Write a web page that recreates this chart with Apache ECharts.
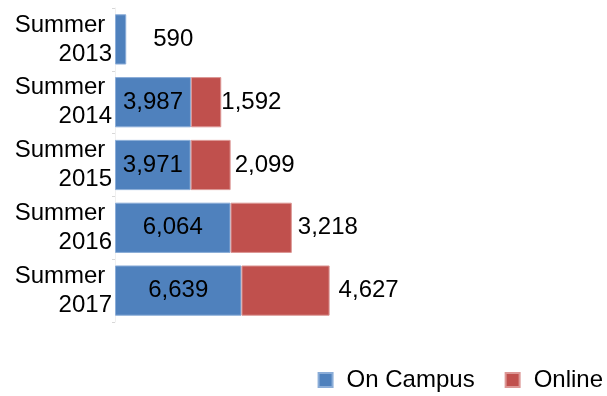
<!DOCTYPE html>
<html>
<head>
<meta charset="utf-8">
<script src="https://cdn.jsdelivr.net/npm/echarts@6/dist/echarts.min.js"></script>
<style>
  html, body { margin: 0; padding: 0; background: #fff; }
  #chart { width: 607px; height: 396px; }
</style>
</head>
<body>
<div id="chart"></div>
<script>
  // data
  const categories = ['Summer 2013', 'Summer 2014', 'Summer 2015', 'Summer 2016', 'Summer 2017']
  const onCampus = [590, 3987, 3971, 6064, 6639]
  const online = ['-', 1592, 2099, 3218, 4627]

  const font = 'Liberation Sans, Arial, sans-serif'
  const fmt = function (p) {
    return Number(p.value).toLocaleString('en-US')
  }
  // outside label gaps as in the picture
  const onlineGap = [0, 0, 4, 6, 9]

  const chart = echarts.init(document.getElementById('chart'))

  // first campus value sits outside the thin bar
  const campusData = onCampus.map(function (v, i) {
    if (i === 0) {
      return { value: v, label: { position: 'right', distance: 27 } }
    }
    return v
  })
  const onlineData = online.map(function (v, i) {
    return { value: v, label: { distance: onlineGap[i] } }
  })

  const option = {
    animation: false,
    legend: {
      right: 4,
      bottom: 4,
      padding: 0,
      itemWidth: 14,
      itemHeight: 14,
      itemGap: 30,
      icon: 'rect',
      textStyle: { fontFamily: font, fontSize: 24, color: '#000', padding: [0, 0, 0, 9] },
      data: ['On Campus', 'Online']
    },
    grid: {
      left: 115,
      top: 8,
      right: 111,
      height: 314
    },
    xAxis: {
      type: 'value',
      min: 0,
      max: 20000,
      show: false
    },
    yAxis: {
      type: 'category',
      inverse: true,
      data: categories,
      axisLine: { lineStyle: { color: '#f0f0f0', width: 1 } },
      axisTick: { show: true, length: 3, lineStyle: { color: '#d8d8d8' } },
      axisLabel: {
        fontFamily: font,
        fontSize: 24,
        color: '#000',
        lineHeight: 29,
        margin: 3,
        // wrapped line keeps its trailing space
        formatter: function (v) {
          return v.replace(' ', ' \n')
        }
      }
    },
    series: [
      {
        name: 'On Campus',
        type: 'bar',
        stack: 'total',
        barCategoryGap: '20%',
        data: campusData,
        itemStyle: { color: '#4f81bd', borderColor: '#8badd8', borderWidth: 1 },
        label: {
          show: true,
          position: 'inside',
          fontFamily: font,
          fontSize: 24,
          color: '#000',
          formatter: fmt
        }
      },
      {
        name: 'Online',
        type: 'bar',
        stack: 'total',
        data: onlineData,
        itemStyle: { color: '#c0504d', borderColor: '#dc9795', borderWidth: 1 },
        label: {
          show: true,
          position: 'right',
          fontFamily: font,
          fontSize: 24,
          color: '#000',
          formatter: fmt
        }
      }
    ]
  }

  chart.setOption(option)
</script>
</body>
</html>
